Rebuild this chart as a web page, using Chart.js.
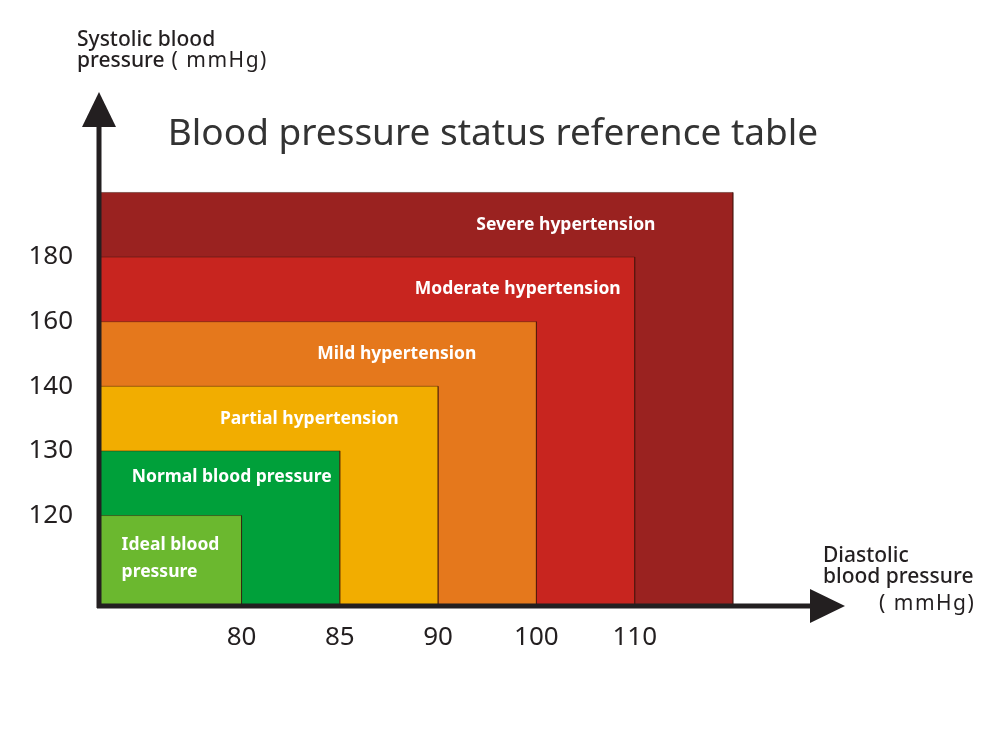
<!DOCTYPE html>
<html>
<head>
<meta charset="utf-8">
<script src="https://cdn.jsdelivr.net/npm/chart.js@4"></script>
<style>
  html, body { margin: 0; padding: 0; background: #fff; }
  #wrap { width: 1000px; height: 732px; }
</style>
</head>
<body>
<div id="wrap"><canvas id="chartBP" width="1000" height="732"></canvas></div>
<script>
// categories, innermost first
const categorias = ['Ideal blood pressure', 'Normal blood pressure', 'Partial hypertension',
  'Mild hypertension', 'Moderate hypertension', 'Severe hypertension'];
// upper limits of each zone (the last zone is open)
const sistolica = [120, 130, 140, 160, 180, null];
const diastolica = [80, 85, 90, 100, 110, null];
const colores = ['#6bb82f', '#00a03a', '#f2ad00', '#e5781c', '#c8251f', '#9a2220'];
// where each zone label sits, in axis index units
const posEtiqueta = [-0.22, 0.90, 1.69, 2.58, 3.81, 4.30];
const ajusteY = [0, -6, 0, 0, 0, 0];

const TINTA = '#231f20';
const FUENTE = '"Noto Sans", "DejaVu Sans", sans-serif';
const X_MIN = -0.45, X_MAX = 6;
const Y_MIN = -0.4, Y_MAX = 6.1;

// each zone is a box from the origin to (i+1, i+1) on the ordinal scales
const datasets = categorias.map((nombre, i) => ({
  label: nombre,
  data: [{ x: X_MIN, y: i + 1 }, { x: i + 1, y: i + 1 }, { x: i + 1, y: Y_MIN }],
  backgroundColor: colores[i],
  borderColor: 'rgba(60, 20, 10, 0.45)',
  borderWidth: 1,
  pointRadius: 0,
  fill: 'start',
  tension: 0,
  clip: 2,
  order: i
}));

const dibujo = {
  id: 'dibujo',
  afterDatasetsDraw(chart) {
    const { ctx, chartArea: a, scales: { x, y } } = chart;
    ctx.save();

    // zone labels
    ctx.fillStyle = '#fff';
    ctx.font = 'bold 17.5px ' + FUENTE;
    ctx.textBaseline = 'middle';
    categorias.forEach((nombre, i) => {
      const py = y.getPixelForValue(i + 0.5) + ajusteY[i];
      const px = x.getPixelForValue(posEtiqueta[i]);
      if (i === 0) {
        ctx.textAlign = 'left';
        ctx.fillText('Ideal blood', px, py - 3);
        ctx.fillText('pressure', px, py + 24);
      } else {
        ctx.textAlign = 'center';
        ctx.fillText(nombre, px, py);
      }
    });

    // axes with arrows
    ctx.strokeStyle = TINTA;
    ctx.fillStyle = TINTA;
    ctx.lineWidth = 5;
    ctx.beginPath();
    ctx.moveTo(a.left, a.bottom + 2);
    ctx.lineTo(a.left, 120);
    ctx.moveTo(a.left - 2, a.bottom);
    ctx.lineTo(815, a.bottom);
    ctx.stroke();
    ctx.beginPath();
    ctx.moveTo(a.left, 92);
    ctx.lineTo(a.left - 17, 127);
    ctx.lineTo(a.left + 17, 127);
    ctx.closePath();
    ctx.fill();
    ctx.beginPath();
    ctx.moveTo(845, a.bottom);
    ctx.lineTo(810, a.bottom - 17);
    ctx.lineTo(810, a.bottom + 17);
    ctx.closePath();
    ctx.fill();

    // titles
    ctx.fillStyle = '#333';
    ctx.textBaseline = 'alphabetic';
    ctx.textAlign = 'center';
    ctx.font = '37px ' + FUENTE;
    ctx.fillText('Blood pressure status reference table', 493, 145);

    ctx.textAlign = 'left';
    ctx.fillStyle = TINTA;
    ctx.font = '500 21px ' + FUENTE;
    ctx.fillText('Systolic blood', 77, 46);
    ctx.fillText('pressure', 77, 67);
    const w = ctx.measureText('pressure').width;
    ctx.font = '21px ' + FUENTE;
    ctx.letterSpacing = '1.5px';
    ctx.fillText(' ( mmHg)', 77 + w, 67);
    ctx.letterSpacing = '0px';

    ctx.font = '500 21px ' + FUENTE;
    ctx.fillText('Diastolic', 823, 562);
    ctx.fillText('blood pressure', 823, 583);
    ctx.font = '21px ' + FUENTE;
    ctx.letterSpacing = '1.5px';
    ctx.fillText('( mmHg)', 879, 610);
    ctx.letterSpacing = '0px';
    ctx.restore();
  }
};

const chartBP = new Chart(document.getElementById('chartBP'), {
  type: 'line',
  data: { datasets },
  options: {
    responsive: false,
    animation: false,
    events: [],
    layout: { padding: { left: 0, top: 186, right: 267, bottom: 0 } },
    plugins: { legend: { display: false }, tooltip: { enabled: false }, title: { display: false } },
    scales: {
      x: {
        type: 'linear',
        min: X_MIN,
        max: X_MAX,
        grid: { display: false, drawTicks: false },
        border: { display: false },
        afterFit: s => { s.height = 126; },
        afterBuildTicks: s => { s.ticks = [1, 2, 3, 4, 5].map(v => ({ value: v })); },
        ticks: {
          padding: 16,
          color: TINTA,
          font: { family: FUENTE, size: 26 },
          callback: v => diastolica[v - 1] ?? ''
        }
      },
      y: {
        type: 'linear',
        min: Y_MIN,
        max: Y_MAX,
        grid: { display: false, drawTicks: false },
        border: { display: false },
        afterFit: s => { s.width = 99; },
        afterBuildTicks: s => { s.ticks = [1, 2, 3, 4, 5].map(v => ({ value: v })); },
        ticks: {
          padding: 26,
          color: TINTA,
          font: { family: FUENTE, size: 26 },
          callback: v => sistolica[v - 1] ?? ''
        }
      }
    }
  },
  plugins: [dibujo]
});
</script>
</body>
</html>
